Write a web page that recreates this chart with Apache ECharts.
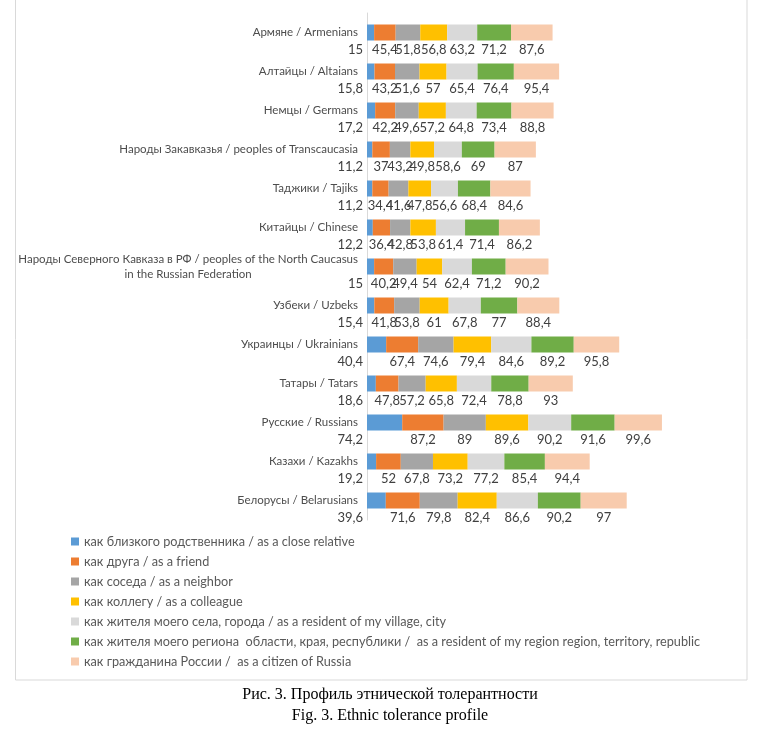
<!DOCTYPE html>
<html>
<head>
<meta charset="utf-8">
<script src="https://cdn.jsdelivr.net/npm/echarts@6/dist/echarts.min.js"></script>
<style>
html,body{margin:0;padding:0;background:#fff;}
#chart{width:769px;height:732px;}
</style>
</head>
<body>
<div id="chart"></div>
<script>
const categories = [
  'Армяне / Armenians',
  'Алтайцы / Altaians',
  'Немцы / Germans',
  'Народы Закавказья / peoples of Transcaucasia',
  'Таджики / Tajiks',
  'Китайцы / Chinese',
  'Народы Северного Кавказа в РФ / peoples of the North Caucasus\nin the Russian Federation',
  'Узбеки / Uzbeks',
  'Украинцы / Ukrainians',
  'Татары / Tatars',
  'Русские / Russians',
  'Казахи / Kazakhs',
  'Белорусы / Belarusians'
];
const seriesNames = [
  'как близкого родственника / as a close relative',
  'как друга / as a friend',
  'как соседа / as a neighbor',
  'как коллегу / as a colleague',
  'как жителя моего села, города / as a resident of my village, city',
  'как жителя моего региона  области, края, республики /  as a resident of my region region, territory, republic',
  'как гражданина России /  as a citizen of Russia'
];
const closeRelative = [15, 15.8, 17.2, 11.2, 11.2, 12.2, 15, 15.4, 40.4, 18.6, 74.2, 19.2, 39.6];
const friend        = [45.4, 43.2, 42.2, 37, 34.4, 36.4, 40.2, 41.8, 67.4, 47.8, 87.2, 52, 71.6];
const neighbor      = [51.8, 51.6, 49.6, 43.2, 41.6, 42.8, 49.4, 53.8, 74.6, 57.2, 89, 67.8, 79.8];
const colleague     = [56.8, 57, 57.2, 49.8, 47.8, 53.8, 54, 61, 79.4, 65.8, 89.6, 73.2, 82.4];
const residentCity  = [63.2, 65.4, 64.8, 58.6, 56.6, 61.4, 62.4, 67.8, 84.6, 72.4, 90.2, 77.2, 86.6];
const residentRegion= [71.2, 76.4, 73.4, 69, 68.4, 71.4, 71.2, 77, 89.2, 78.8, 91.6, 85.4, 90.2];
const citizen       = [87.6, 95.4, 88.8, 87, 84.6, 86.2, 90.2, 88.4, 95.8, 93, 99.6, 94.4, 97];
const seriesData = [closeRelative, friend, neighbor, colleague, residentCity, residentRegion, citizen];
const colors = ['#5B9BD5', '#ED7D31', '#A5A5A5', '#FFC000', '#D9D9D9', '#70AD47', '#F8CBAD'];

const font = 'Lato, "Liberation Sans", sans-serif';
const chart = echarts.init(document.getElementById('chart'));

const series = seriesNames.map((name, i) => ({
  name: name,
  type: 'bar',
  stack: 'total',
  barWidth: 16,
  data: seriesData[i],
  itemStyle: { color: colors[i] },
  emphasis: { disabled: true },
  label: {
    show: true,
    position: i === 0 ? ['0%', '100%'] : ['50%', '100%'],
    align: i === 0 ? 'right' : 'center',
    verticalAlign: 'middle',
    offset: i === 0 ? [-4, 9] : [0, 9],
    fontFamily: font,
    fontSize: 13,
    color: '#404040',
    formatter: p => String(p.value).replace('.', ',')
  }
}));

chart.setOption({
  animation: false,
  backgroundColor: '#fff',
  color: colors,
  grid: { left: 367, top: 13, width: 379.7, height: 507, containLabel: false },
  xAxis: {
    type: 'value', min: 0, max: 800, show: false
  },
  yAxis: {
    type: 'category',
    inverse: true,
    data: categories,
    axisLine: { show: true, lineStyle: { color: '#D9D9D9', width: 1 } },
    axisTick: { show: false },
    axisLabel: {
      margin: 9,
      fontFamily: font,
      fontSize: 11.5,
      color: '#4d4d4d',
      lineHeight: 15,
      formatter: function (v) {
        if (v.indexOf('\n') >= 0) {
          const parts = v.split('\n');
          return parts[0] + '\n{c|' + parts[1] + '}';
        }
        return v;
      },
      rich: {
        c: { width: 330, align: 'center', fontFamily: font, fontSize: 11.5, color: '#4d4d4d', lineHeight: 15 }
      }
    }
  },
  legend: {
    orient: 'vertical',
    left: 66,
    top: 530,
    itemWidth: 8,
    itemHeight: 8,
    itemGap: 7,
    icon: 'rect',
    data: seriesNames,
    textStyle: { fontFamily: font, fontSize: 12.7, color: '#595959' }
  },
  title: {
    text: 'Рис. 3. Профиль этнической толерантности\nFig. 3. Ethnic tolerance profile',
    left: 385,
    top: 679,
    textAlign: 'center',
    textStyle: { fontFamily: '"Liberation Serif", "Times New Roman", serif', fontSize: 16, fontWeight: 'normal', color: '#000', lineHeight: 21 }
  },
  graphic: [{
    type: 'rect',
    shape: { x: 15.5, y: -1, width: 731.5, height: 681 },
    style: { fill: 'none', stroke: '#D9D9D9', lineWidth: 1 },
    silent: true
  }],
  series: series
});
</script>
</body>
</html>
